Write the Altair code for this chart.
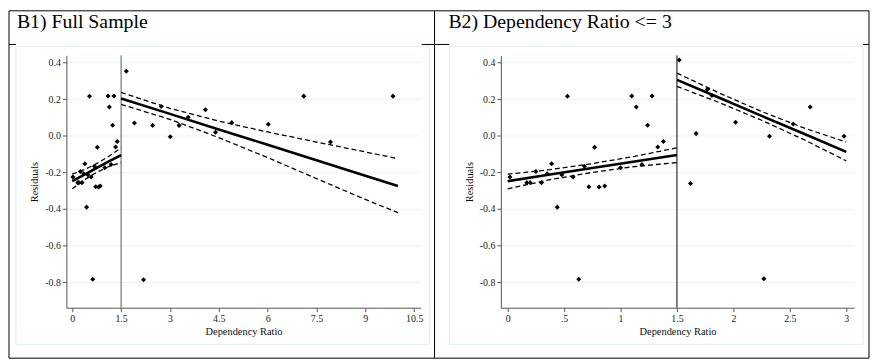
import altair as alt
import pandas as pd

# ---- data ----
low_x = [0.02, 0.17, 0.20, 0.25, 0.30, 0.35, 0.39, 0.44, 0.48, 0.53, 0.58, 0.63, 0.68,
         0.72, 0.77, 0.81, 0.86, 1.00, 1.10, 1.14, 1.19, 1.24, 1.28, 1.33, 1.38]
low_y = [-0.225, -0.256, -0.256, -0.195, -0.256, -0.207, -0.153, -0.390, -0.213, 0.216,
         -0.225, -0.784, -0.166, -0.279, -0.063, -0.280, -0.274, -0.175, 0.218, 0.158,
         -0.157, 0.058, 0.218, -0.061, -0.031]

b1_high_x = [1.66, 1.91, 2.19, 2.47, 2.73, 3.01, 3.28, 3.56, 4.09, 4.40, 4.90, 6.02, 7.11, 7.93, 9.85]
b1_high_y = [0.353, 0.070, -0.787, 0.057, 0.160, -0.005, 0.057, 0.102, 0.143, 0.020, 0.072,
             0.063, 0.217, -0.034, 0.217]

b2_high_x = [1.52, 1.62, 1.67, 1.77, 1.81, 2.02, 2.27, 2.32, 2.53, 2.68, 2.98]
b2_high_y = [0.415, -0.261, 0.012, 0.254, 0.220, 0.074, -0.782, -0.002, 0.065, 0.158, -0.002]

# fitted lines and confidence limits
low_fx = [0.0, 0.375, 0.75, 1.125, 1.5]
low_fit = [-0.248, -0.212, -0.176, -0.140, -0.105]
low_hi = [-0.210, -0.185, -0.152, -0.112, -0.066]
low_lo = [-0.290, -0.240, -0.200, -0.168, -0.146]

b1_fx = [1.5, 3.0, 4.5, 6.0, 7.5, 9.0, 10.0]
b1_fit = [0.204, 0.120, 0.035, -0.049, -0.134, -0.218, -0.274]
b1_hi = [0.237, 0.150, 0.080, 0.021, -0.034, -0.088, -0.125]
b1_lo = [0.172, 0.090, -0.010, -0.119, -0.234, -0.348, -0.420]

b2_fx = [1.5, 1.875, 2.25, 2.625, 3.0]
b2_fit = [0.306, 0.208, 0.109, 0.011, -0.088]
b2_hi = [0.343, 0.234, 0.133, 0.043, -0.034]
b2_lo = [0.270, 0.182, 0.085, -0.021, -0.137]

y_ticks = [-0.8, -0.6, -0.4, -0.2, 0.0, 0.2, 0.4]
b1_xticks = [0, 1.5, 3, 4.5, 6, 7.5, 9, 10.5]
b2_xticks = [0, 0.5, 1, 1.5, 2, 2.5, 3]
cutoff = [1.5]

FONT = "Liberation Serif"
W_L, W_R, H = 358, 357, 255


def pts_df(xs, ys):
    return pd.DataFrame({"x": xs, "y": ys})


def fit_df(parts):
    rows = []
    for seg, (fx, f, lo, hi) in enumerate(parts):
        for a, b, c, d in zip(fx, f, lo, hi):
            rows.append({"seg": seg, "x": a, "fit": b, "lo": c, "hi": d})
    return pd.DataFrame(rows)


def deco_rule(x1, x2, y1, y2, color="black", width=1.0):
    return alt.Chart(alt.Data(values=[{}])).mark_rule(color=color, strokeWidth=width).encode(
        x=alt.value(x1), x2=alt.value(x2), y=alt.value(y1), y2=alt.value(y2))


def panel(points, fits, xdom, xticks, xlabel_expr, cut_color, header, width, frame):
    xs = alt.Scale(domain=xdom, nice=False, zero=False)
    ys = alt.Scale(domain=[-0.94, 0.44], nice=False, zero=False)
    axis_common = dict(labelFont=FONT, titleFont=FONT, labelFontSize=10, titleFontSize=10.5,
                       labelColor="#1a1a1a", titleColor="#111111", titleFontWeight="normal",
                       domainColor="#555555", tickColor="#555555", tickSize=4, labelPadding=2)
    xaxis = alt.Axis(values=xticks, title="Dependency Ratio", labelExpr=xlabel_expr,
                     grid=False, titlePadding=3, **axis_common)
    yaxis = alt.Axis(values=y_ticks, title="Residuals",
                     labelExpr="(datum.value < 0 ? '-' : '') + format(abs(datum.value), '.1f')",
                     grid=True, gridColor="#eaf4f6", gridWidth=1, titlePadding=5, **axis_common)

    def X(field):
        return alt.X(field, scale=xs, axis=xaxis)

    def Y(field):
        return alt.Y(field, scale=ys, axis=yaxis)

    dots = alt.Chart(points).mark_point(shape="diamond", filled=True, size=26, color="black",
                                        opacity=1).encode(x=X("x:Q"), y=Y("y:Q"))

    fb = alt.Chart(fits)
    hi = fb.mark_line(color="black", strokeWidth=1.3, strokeDash=[5, 3]).encode(
        x=X("x:Q"), y=Y("hi:Q"), detail="seg:N")
    lo = fb.mark_line(color="black", strokeWidth=1.3, strokeDash=[5, 3]).encode(
        x=X("x:Q"), y=Y("lo:Q"), detail="seg:N")
    fit = fb.mark_line(color="black", strokeWidth=2.6).encode(
        x=X("x:Q"), y=Y("fit:Q"), detail="seg:N")

    cut = alt.Chart(pd.DataFrame({"c": cutoff})).mark_rule(color=cut_color, strokeWidth=1).encode(
        x=X("c:Q"))

    title = alt.Chart(alt.Data(values=[{}])).mark_text(
        text=header, font=FONT, fontSize=20, align="left", baseline="alphabetic", color="black"
    ).encode(x=alt.value(frame["tx"]), y=alt.value(-28))

    rules = [deco_rule(*r) for r in frame["rules"]]
    box = alt.Chart(alt.Data(values=[{}])).mark_rect(
        fillOpacity=0, stroke="#e2ecf0", strokeWidth=1).encode(
        x=alt.value(frame["box"][0]), x2=alt.value(frame["box"][1]),
        y=alt.value(frame["box"][2]), y2=alt.value(frame["box"][3]))

    return alt.layer(dots, cut, hi, lo, fit, box, title, *rules).properties(width=width, height=H)


left_frame = {
    "tx": -50,
    "box": [-51, 367, -9, 292],
    "rules": [
        (-58, -58, -45, 306),
        (-58, 372, -45, -45),
        (-58, 372, 306, 306),
        (372, 372, -45, 306),
        (-58, -51, -11, -11),
        (359, 372, -11, -11),
    ],
}
right_frame = {
    "tx": -53,
    "box": [-52, 366, -9, 292],
    "rules": [
        (-67, 372, -45, -45),
        (-67, 372, 306, 306),
        (372, 372, -45, 306),
        (-67, -52, -11, -11),
        (366, 372, -11, -11),
    ],
}

left = panel(pts_df(low_x + b1_high_x, low_y + b1_high_y),
             fit_df([(low_fx, low_fit, low_lo, low_hi), (b1_fx, b1_fit, b1_lo, b1_hi)]),
             [-0.18, 10.7], b1_xticks, "format(datum.value, '~g')", "#555555",
             "B1) Full Sample", W_L, left_frame)

right = panel(pts_df(low_x + b2_high_x, low_y + b2_high_y),
              fit_df([(low_fx, low_fit, low_lo, low_hi), (b2_fx, b2_fit, b2_lo, b2_hi)]),
              [-0.06, 3.07], b2_xticks,
              "datum.value == 0.5 ? '.5' : format(datum.value, '~g')", "black",
              "B2) Dependency Ratio <= 3", W_R, right_frame)

chart = alt.hconcat(left, right, spacing=81, bounds="flush").properties(
    padding=0, background="white"
).configure_view(stroke=None)

chart.save("out.html", embed_options={"renderer": "svg", "actions": False})
